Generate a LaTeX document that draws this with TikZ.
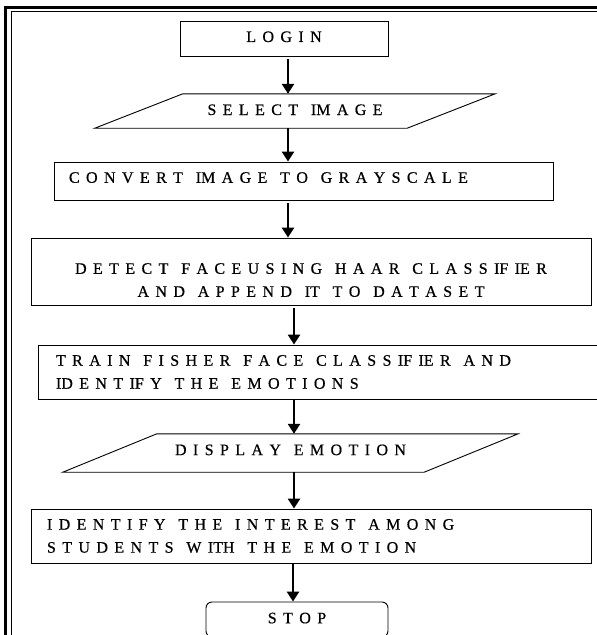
\documentclass[tikz,border=0pt]{standalone}
\usepackage{fontspec}
\setmainfont{Liberation Serif}
\newfontfamily\capsfont{Liberation Serif}[FakeBold=0.5]
\usetikzlibrary{arrows.meta}

% widened interword space for the letter-spaced captions
\newlength{\capgap}
\setlength{\capgap}{6.4pt}
\newcommand{\spacedcaps}{\spaceskip=\capgap\relax}

\tikzset{
  every node/.style={font=\capsfont\fontsize{16}{23}\selectfont, execute at begin node=\spacedcaps},
  box/.style={draw, line width=0.9pt, inner sep=0pt, align=center},
  leftbox/.style={draw, line width=0.9pt, inner ysep=0pt, align=left},
  iobox/.style={inner sep=0pt, align=center},
  ioedge/.style={line width=0.9pt},
  arr/.style={line width=2.6pt, -{Triangle[width=12pt,length=10pt]}},
  frameouter/.style={line width=2.6pt},
  frameinner/.style={line width=1pt},
}

\begin{document}
\begin{tikzpicture}[x=1pt,y=-1pt]
  \useasboundingbox (0,0) rectangle (597,635);
  \clip (0,0) rectangle (597,635);

  % page frame (double rule on top and left)
  \draw[frameouter] (5.5,640) -- (5.5,7.5) -- (600,7.5);
  \draw[frameinner] (11,640) -- (11,11) -- (600,11);

  % flowchart steps
  \node[box, minimum width=208pt, minimum height=35pt, text depth=3.6pt]
    (login) at (284,38.5) {L O G I N};

  \node[iobox, minimum width=312pt, minimum height=34pt, text depth=2.6pt]
    (sel) at (295,111) {S E L E C T~ IM A G E};
  \draw[ioedge] ([xshift=44pt]sel.north west) -- ([xshift=44pt]sel.north east)
    -- ([xshift=-44pt]sel.south east) -- ([xshift=-44pt]sel.south west) -- cycle;

  \node[leftbox, text width=469pt, inner xsep=15pt, minimum height=38pt, text depth=7pt]
    (conv) at (303.5,181) {C O N V E R T~ IM A G E~ T O~ G R A Y S C A L E};

  \node[box, text width=540pt, inner xsep=10pt, minimum height=67pt, text depth=6pt]
    (detect) at (311,271.5)
    {D E T E C T~ F A C E U S I N G~ H A A R~ C L A S S IF IE R\\
     A N D~ A P P E N D~ IT~ T O~ D A T A S E T};

  \node[leftbox, text width=526pt, inner xsep=18pt, minimum height=54pt]
    (train) at (319,372)
    {T R A I N~ F I S H E R~ F A C E~ C L A S S IF IE R~ A N D\\
     ID E N T IF Y~ T H E~ E M O T I O N S};

  \node[iobox, minimum width=361pt, minimum height=38pt, text depth=6.4pt]
    (disp) at (290.5,453) {D I S P L A Y~ E M O T I O N};
  \draw[ioedge] ([xshift=47pt]disp.north west) -- ([xshift=47pt]disp.north east)
    -- ([xshift=-47pt]disp.south east) -- ([xshift=-47pt]disp.south west) -- cycle;

  \node[leftbox, text width=528pt, inner xsep=16pt, minimum height=54pt]
    (ident) at (311,536)
    {I D E N T I F Y~ T H E~ I N T E R E S T~ A M O N G\\
     S T U D E N T S~ W ITH~ T H E~ E M O T I O N};

  \node[box, rounded corners=6pt, minimum width=182pt, minimum height=35pt, text depth=3pt]
    (stop) at (297,619.5) {S T O P};

  % connectors
  \coordinate (c1) at ([xshift=4pt]login.south);
  \coordinate (c2) at ([xshift=-7pt]sel.south);
  \coordinate (c3) at ([xshift=-15.5pt]conv.south);
  \coordinate (c4) at ([xshift=-17pt]detect.south);
  \coordinate (c5) at ([xshift=-25pt]train.south);
  \coordinate (c6) at ([xshift=3.5pt]disp.south);
  \coordinate (c7) at ([xshift=-18pt]ident.south);

  \draw[arr] ([yshift=-3pt]c1) -- (c1 |- sel.north);
  \draw[arr] (c2) -- (c2 |- conv.north);
  \draw[arr] ([yshift=-3pt]c3) -- (c3 |- detect.north);
  \draw[arr] ([yshift=-3pt]c4) -- (c4 |- train.north);
  \draw[arr] (c5) -- (c5 |- disp.north);
  \draw[arr] (c6) -- (c6 |- ident.north);
  \draw[arr] (c7) -- (c7 |- stop.north);
\end{tikzpicture}
\end{document}
